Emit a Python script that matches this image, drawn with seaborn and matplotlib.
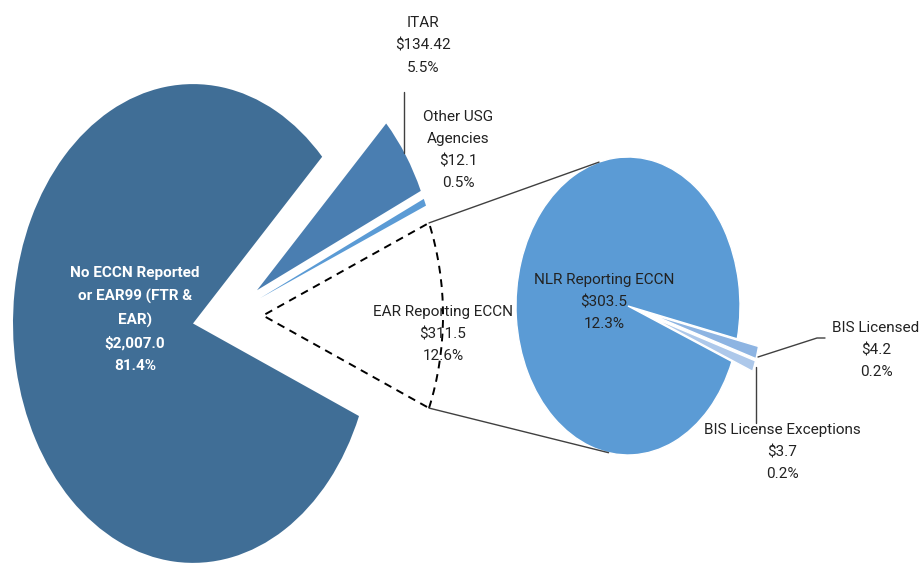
import numpy as np
import matplotlib
matplotlib.use("Agg")
import matplotlib.pyplot as plt
import seaborn as sns

sns.set_theme(style="white")
plt.rcParams['font.family'] = ['Roboto', 'DejaVu Sans']

# ------------------------------------------------------------------------
# Data (values in $ billions)
# ------------------------------------------------------------------------
main_labels = ["No ECCN Reported\nor EAR99 (FTR &\nEAR)", "ITAR",
               "Other USG\nAgencies", "EAR Reporting ECCN"]
main_values = [2007.0, 134.42, 12.1, 311.5]
main_decimals = [1, 2, 1, 1]

sub_labels = ["NLR Reporting ECCN", "BIS Licensed", "BIS License Exceptions"]
sub_values = [303.5, 4.2, 3.7]
sub_decimals = [1, 1, 1]

main_colors = ["#406E96", "#4A7EB1", "#5B9BD5", "#FFFFFF"]
sub_colors = ["#5B9BD5", "#8DB4E2", "#ADC8EA"]

# ------------------------------------------------------------------------
# Layout: data units = pixels horizontally, pies stretched vertically
# ------------------------------------------------------------------------
W, H = 919, 563
S = 1.33


def yd(y_img):
    return (H - y_img) / S


fig = plt.figure(figsize=(9.19, 5.63), dpi=100)
ax = fig.add_axes([0, 0, 1, 1])

total = sum(main_values)
ear_half = main_values[3] / total * 180
c1, r1 = (263, yd(315.5)), 180
c2, r2 = (628, yd(306)), 112

w1, _ = ax.pie(main_values, colors=main_colors,
               startangle=-ear_half, counterclock=False, center=c1, radius=r1,
               wedgeprops=dict(linewidth=0))
# slice offsets (pulled-out slices), data units
offsets = [(-70, -6), (-6, 19), (-3, 13), (0, 0)]
for w, (dx, dy) in zip(w1, offsets):
    w.set_center((c1[0] + dx, c1[1] + dy))
ear = w1[3]
ear.set_facecolor('none')
ear.set_edgecolor('black')
ear.set_linestyle((0, (4, 3)))
ear.set_linewidth(1.4)

bis_deg = sum(sub_values[1:]) / sum(sub_values) * 360
w2, _ = ax.pie(sub_values, colors=sub_colors, explode=[0, 22, 22],
               startangle=-17.3 - bis_deg / 2, counterclock=False,
               center=c2, radius=r2,
               wedgeprops=dict(linewidth=1.0, edgecolor='white'))

# connector lines between the two pies
for a1, a2 in [(ear_half, 105), (-ear_half, -100)]:
    p1 = (c1[0] + r1 * np.cos(np.radians(a1)), c1[1] + r1 * np.sin(np.radians(a1)))
    p2 = (c2[0] + r2 * np.cos(np.radians(a2)), c2[1] + r2 * np.sin(np.radians(a2)))
    ax.plot([p1[0], p2[0]], [p1[1], p2[1]], color='#404040', lw=1.0)

# leader lines
ax.plot([404, 404], [yd(92), yd(153)], color='#404040', lw=1.0)
ax.plot([758, 817, 825], [yd(357), yd(338), yd(338)], color='#404040', lw=1.0)
ax.plot([756, 756], [yd(367), yd(423)], color='#404040', lw=1.0)


def label_text(name, value, dec):
    return f"{name}\n${value:,.{dec}f}\n{value / total * 100:.1f}%"


txt_kw = dict(ha='center', va='center', fontsize=11, linespacing=1.75, color='#222222')
main_pos = [(135, 319.5), (423, 45.7), (458, 150), (443, 334)]
for name, v, d, (x, y) in zip(main_labels, main_values, main_decimals, main_pos):
    kw = dict(txt_kw)
    if name.startswith("No ECCN"):
        kw.update(color='white', fontweight='bold')
    ax.text(x, yd(y), label_text(name, v, d), **kw)

sub_pos = [(604, 302), (876, 350), (782, 452)]
for name, v, d, (x, y) in zip(sub_labels, sub_values, sub_decimals, sub_pos):
    ax.text(x, yd(y), label_text(name, v, d), **txt_kw)

ax.set_aspect('auto')
ax.set_xlim(0, W)
ax.set_ylim(0, H / S)
ax.axis('off')

fig.savefig("out.png", dpi=100)
plt.close(fig)
